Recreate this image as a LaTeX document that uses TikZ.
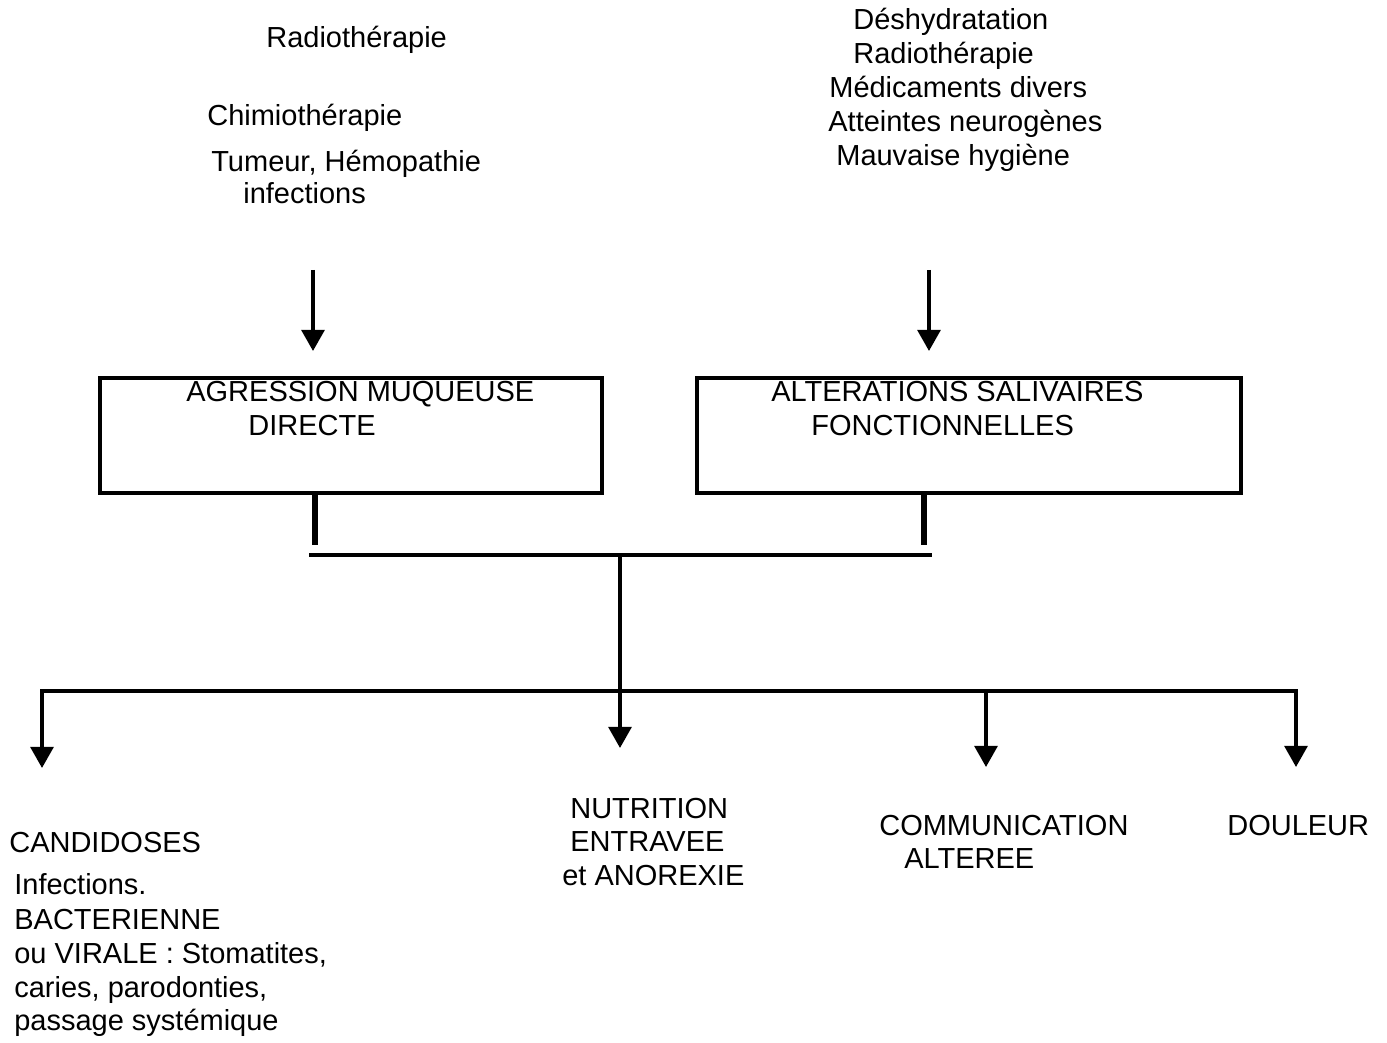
\documentclass[tikz,border=0pt]{standalone}
\usepackage{fontspec}
\setmainfont{Liberation Sans}
\usetikzlibrary{arrows.meta}

\tikzset{
  lbl/.style={anchor=base west, inner sep=0pt, font=\fontsize{16.5}{19}\selectfont},
  box/.style={draw, line width=2pt, outer sep=0pt, inner sep=0pt},
  flow/.style={line width=2pt, -{Triangle[width=13pt,length=12pt]}},
  wire/.style={line width=2pt, line cap=rect},
  stub/.style={line width=3pt},
}

\begin{document}
\begin{tikzpicture}[x=0.02cm,y=-0.02cm]
\useasboundingbox (0,0) rectangle (1387,1043);
% causes of the mucosal damage
\node[lbl] (radL) at (266,48) {Radiothérapie};
\node[lbl] (chimio) at (207,126) {Chimiothérapie};
\node[lbl] (tumeur) at (211,172) {Tumeur, Hémopathie};
\node[lbl] (infect) at (243,204) {infections};
% causes of the salivary changes
\node[lbl] (deshyd) at (853,30) {Déshydratation};
\node[lbl] (radR) at (853,64) {Radiothérapie};
\node[lbl] (medic) at (829,98) {Médicaments divers};
\node[lbl] (neuro) at (828,132) {Atteintes neurogènes};
\node[lbl] (hyg) at (836,166) {Mauvaise hygiène};
% the two boxes
\node[box, minimum width=10.04cm, minimum height=2.3cm] (agr) at (351,435.5) {};
\node[lbl] at (186,402) {AGRESSION MUQUEUSE};
\node[lbl] at (248,436) {DIRECTE};
\node[box, minimum width=10.88cm, minimum height=2.3cm] (alt) at (969,435.5) {};
\node[lbl] at (771,402) {ALTERATIONS SALIVAIRES};
\node[lbl] at (811,436) {FONCTIONNELLES};
% arrows into the boxes
\coordinate (inL) at (313,270);
\coordinate (tipL) at (313,351);
\coordinate (inR) at (929,270);
\coordinate (tipR) at (929,351);
\draw[flow] (inL) -- (tipL);
\draw[flow] (inR) -- (tipR);
% joining the two boxes
\coordinate (jL) at (315,545);
\coordinate (jR) at (924,545);
\coordinate (barL) at (311,555);
\coordinate (barR) at (930,555);
\coordinate (hub) at (620,555);
\coordinate (split) at (620,691);
\draw[stub] (agr.south -| jL) -- (jL);
\draw[stub] (alt.south -| jR) -- (jR);
\draw[wire] (barL) -- (barR);
% consequences
\node[lbl] (cand) at (9,852) {CANDIDOSES};
\node[lbl] (inf1) at (14,894) {Infections.};
\node[lbl] (inf2) at (14,929) {BACTERIENNE};
\node[lbl] (inf3) at (14,963) {ou VIRALE : Stomatites,};
\node[lbl] (inf4) at (14,997) {caries, parodonties,};
\node[lbl] (inf5) at (14,1030) {passage systémique};
\node[lbl] (nutr1) at (570,818) {NUTRITION};
\node[lbl] (nutr2) at (570,851) {ENTRAVEE};
\node[lbl] (nutr3) at (562,885) {et ANOREXIE};
\node[lbl] (comm1) at (879,835) {COMMUNICATION};
\node[lbl] (comm2) at (904,868) {ALTEREE};
\node[lbl] (doul) at (1227,835) {DOULEUR};
\coordinate (toCand) at (42,768);
\coordinate (toNutr) at (620,748);
\coordinate (toComm) at (986,767);
\coordinate (toDoul) at (1296,767);
\draw[flow] (hub) -- (toNutr);
\draw[wire] (split -| toCand) -- (split -| toDoul);
\draw[flow] (split -| toCand) -- (toCand);
\draw[flow] (split -| toComm) -- (toComm);
\draw[flow] (split -| toDoul) -- (toDoul);
\end{tikzpicture}
\end{document}
